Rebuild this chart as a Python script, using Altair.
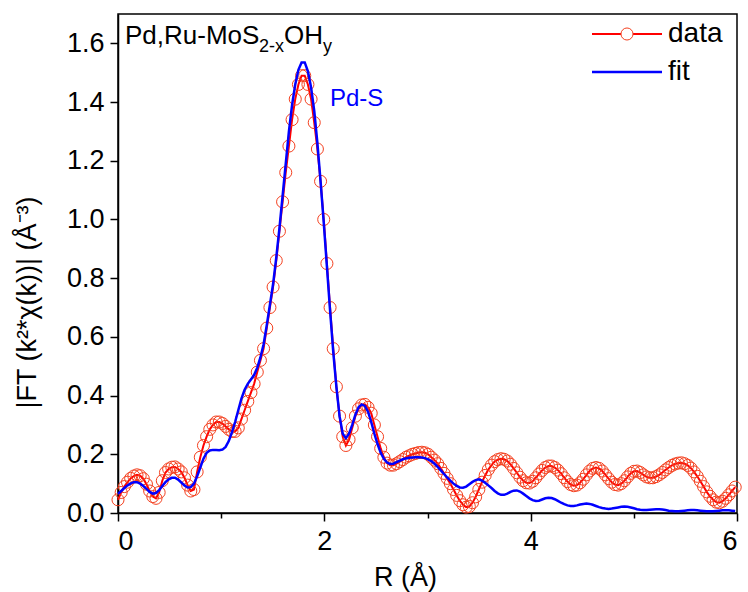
import altair as alt
import pandas as pd

# R grid spacing (Athena-style FT grid)
STEP = 0.030680

# |FT| of experimental data (one value per R grid point)
data_vals = [
    0.045, 0.07, 0.09, 0.105, 0.118, 0.126, 0.13, 0.127, 0.117, 0.098,
    0.075, 0.056, 0.05, 0.07, 0.11, 0.138, 0.15, 0.156, 0.157, 0.15,
    0.14, 0.12, 0.095, 0.075, 0.08, 0.14, 0.19, 0.23, 0.26, 0.285,
    0.30, 0.31, 0.31, 0.305, 0.295, 0.285, 0.278, 0.278, 0.29, 0.32,
    0.35, 0.38, 0.41, 0.44, 0.48, 0.52, 0.56, 0.63, 0.70, 0.77,
    0.86, 0.96, 1.06, 1.16, 1.25, 1.34, 1.41, 1.46, 1.49, 1.49,
    1.46, 1.41, 1.33, 1.24, 1.13, 1.00, 0.85, 0.70, 0.56, 0.43,
    0.33, 0.26, 0.23, 0.25, 0.29, 0.33, 0.355, 0.368, 0.37, 0.36,
    0.34, 0.30, 0.26, 0.22, 0.19, 0.17, 0.163, 0.163, 0.168, 0.175,
    0.182, 0.19, 0.195, 0.20, 0.203, 0.206, 0.207, 0.205, 0.20, 0.19,
    0.18, 0.168, 0.152, 0.135, 0.118, 0.10, 0.08, 0.06, 0.042, 0.028,
    0.02, 0.022, 0.035, 0.055, 0.08, 0.105, 0.128, 0.148, 0.163, 0.175,
    0.182, 0.185, 0.183, 0.177, 0.166, 0.152, 0.137, 0.122, 0.11, 0.103,
    0.102, 0.108, 0.12, 0.133, 0.145, 0.155, 0.16, 0.16, 0.155, 0.146,
    0.134, 0.12, 0.107, 0.097, 0.093, 0.095, 0.103, 0.115, 0.13, 0.143,
    0.152, 0.155, 0.152, 0.143, 0.13, 0.117, 0.105, 0.097, 0.095, 0.10,
    0.11, 0.123, 0.135, 0.142, 0.143, 0.138, 0.13, 0.123, 0.12, 0.12,
    0.124, 0.13, 0.138, 0.147, 0.155, 0.162, 0.167, 0.17, 0.171, 0.168,
    0.162, 0.153, 0.14, 0.125, 0.108, 0.09, 0.072, 0.057, 0.045, 0.037,
    0.035, 0.04, 0.05, 0.062, 0.075, 0.088,
]

# |FT| of the fit
fit_vals = [
    0.065, 0.075, 0.085, 0.094, 0.101, 0.105, 0.105, 0.10, 0.092, 0.082,
    0.072, 0.066, 0.068, 0.078, 0.092, 0.105, 0.115, 0.12, 0.12, 0.114,
    0.104, 0.094, 0.087, 0.088, 0.10, 0.125, 0.155, 0.185, 0.205, 0.213,
    0.215, 0.215, 0.214, 0.216, 0.225, 0.245, 0.275, 0.31, 0.35, 0.39,
    0.42, 0.44, 0.455, 0.47, 0.495, 0.53, 0.575, 0.64, 0.71, 0.78,
    0.87, 0.97, 1.08, 1.19, 1.30, 1.39, 1.46, 1.51, 1.535, 1.535,
    1.505, 1.45, 1.37, 1.26, 1.13, 0.99, 0.84, 0.69, 0.55, 0.43,
    0.33, 0.27, 0.255, 0.27, 0.30, 0.335, 0.36, 0.37, 0.365, 0.345,
    0.31, 0.27, 0.235, 0.205, 0.185, 0.172, 0.167, 0.168, 0.173, 0.178,
    0.183, 0.186, 0.188, 0.189, 0.19, 0.19, 0.189, 0.187, 0.183, 0.177,
    0.168, 0.157, 0.145, 0.133, 0.121, 0.11, 0.10, 0.092, 0.087, 0.086,
    0.09, 0.098, 0.106, 0.112, 0.115, 0.11, 0.103, 0.094, 0.085, 0.075,
    0.067, 0.062, 0.062, 0.066, 0.072, 0.076, 0.077, 0.073, 0.066, 0.058,
    0.05, 0.044, 0.041, 0.042, 0.046, 0.05, 0.052, 0.051, 0.047, 0.041,
    0.035, 0.03, 0.026, 0.024, 0.024, 0.026, 0.029, 0.031, 0.032, 0.031,
    0.028, 0.024, 0.02, 0.017, 0.015, 0.014, 0.015, 0.017, 0.019, 0.021,
    0.022, 0.021, 0.019, 0.016, 0.013, 0.011, 0.01, 0.01, 0.011, 0.012,
    0.013, 0.013, 0.012, 0.01, 0.008, 0.007, 0.006, 0.006, 0.007, 0.008,
    0.009, 0.01, 0.01, 0.009, 0.008, 0.007, 0.006, 0.006, 0.006, 0.007,
    0.008, 0.009, 0.009, 0.009, 0.008, 0.007,
]

x_ticks = [0, 1, 2, 3, 4, 5, 6]
y_ticks = [round(0.1 * i, 1) for i in range(17)]
series_names = ["data", "fit"]

R = [round(i * STEP, 4) for i in range(len(data_vals))]
df = pd.DataFrame({"R": R, "data": data_vals, "fit": fit_vals})

FONT = "Liberation Sans"
RED = "#ff0000"
CIRC = "#f4401f"
BLUE = "#0000ff"

xscale = alt.Scale(domain=[0, 6], nice=False, zero=False)
yscale = alt.Scale(domain=[0, 1.7], nice=False)

xaxis = alt.Axis(
    values=x_ticks,
    labelExpr="datum.value % 2 == 0 ? format(datum.value, 'd') : ''",
    tickSize={"condition": {"test": "datum.value % 2 == 0", "value": 8}, "value": 5},
    title="R (Å)",
    titleX=287, titleY=64, titleBaseline="middle", titleAnchor="middle",
    labelPadding=7,
    grid=False,
)
yaxis = alt.Axis(
    values=y_ticks,
    labelExpr="round(datum.value*10) % 2 == 0 ? format(datum.value, '.1f') : ''",
    tickSize={"condition": {"test": "round(datum.value*10) % 2 == 0", "value": 8}, "value": 5},
    title="|FT (k²*χ(k))| (Å⁻³)",
    titleX=-91, titleY=288, titleBaseline="middle", titleAnchor="middle",
    labelPadding=6,
    grid=False,
)

base = alt.Chart(df)

data_line = base.mark_line(color=RED, strokeWidth=2).encode(
    x=alt.X("R:Q", scale=xscale, axis=xaxis),
    y=alt.Y("data:Q", scale=yscale, axis=yaxis),
)
data_pts = base.mark_point(
    shape="circle", filled=False, color=CIRC, size=145, strokeWidth=1, opacity=1
).encode(x=alt.X("R:Q", scale=xscale), y=alt.Y("data:Q", scale=yscale))
fit_line = base.mark_line(color=BLUE, strokeWidth=2.5).encode(
    x=alt.X("R:Q", scale=xscale), y=alt.Y("fit:Q", scale=yscale)
)

one = pd.DataFrame({"k": [0]})

def label(text, x, y, size, color="black"):
    return alt.Chart(one).mark_text(
        text=text, align="left", baseline="alphabetic", font=FONT,
        fontSize=size, color=color,
    ).encode(x=alt.value(x), y=alt.value(y))

title_parts = [
    label("Pd,Ru-MoS", 7, 30, 26),
    label("2-x", 141, 38, 18),
    label("OH", 166, 30, 26),
    label("y", 205, 38, 18),
]
pds = label("Pd-S", 212, 92, 24, BLUE)

# legend
leg = pd.DataFrame({"name": series_names, "ypos": [20, 58]})
leg_red = alt.Chart(leg[leg.name == "data"]).mark_rule(color=RED, strokeWidth=2).encode(
    x=alt.value(474), x2=alt.value(544), y=alt.value(20)
)
leg_circ = alt.Chart(leg[leg.name == "data"]).mark_point(
    shape="circle", filled=True, fill="white", stroke=CIRC, size=145, strokeWidth=1, opacity=1
).encode(x=alt.value(509), y=alt.value(20))
leg_blue = alt.Chart(leg[leg.name == "fit"]).mark_rule(color=BLUE, strokeWidth=2.5).encode(
    x=alt.value(474), x2=alt.value(544), y=alt.value(58)
)
leg_text = alt.Chart(leg).mark_text(
    align="left", baseline="middle", font=FONT, fontSize=28, color="black"
).encode(x=alt.value(550), y=alt.Y("ypos:Q", scale=None), text="name:N")

chart = alt.layer(
    data_line, data_pts, fit_line, *title_parts, pds,
    leg_red, leg_circ, leg_blue, leg_text,
).properties(
    width=619, height=499,
    autosize=alt.AutoSizeParams(type="none"),
    padding={"left": 118, "top": 14, "right": 11, "bottom": 79},
    background="white",
).configure_view(
    stroke="black", strokeWidth=1.5
).configure_axis(
    domainColor="black", domainWidth=1.5, tickColor="black", tickWidth=1.5,
    labelFont=FONT, labelFontSize=27, labelColor="black",
    titleFont=FONT, titleFontSize=27, titleFontWeight="normal", titleColor="black",
)

chart.save("out.html", embed_options={"renderer": "svg", "actions": False})
